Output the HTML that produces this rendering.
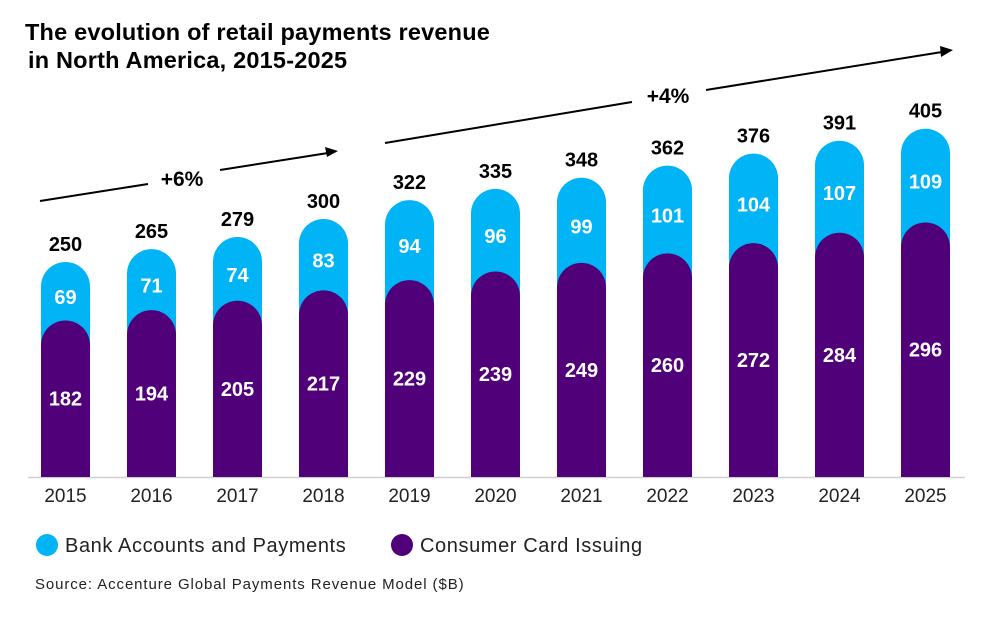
<!DOCTYPE html>
<html><head><meta charset="utf-8"><style>
body{margin:0;background:#fff;width:992px;height:621px;overflow:hidden;font-family:"Liberation Sans",sans-serif}
</style></head><body>
<svg id="chart" width="992" height="621" xmlns="http://www.w3.org/2000/svg" font-family="Liberation Sans, sans-serif">
<text font-weight="bold" font-size="23.5" fill="#000"><tspan x="25" y="40" letter-spacing="0.2">The evolution of retail payments revenue</tspan><tspan x="28" y="68" letter-spacing="0.2">in North America, 2015-2025</tspan></text>
<line x1="28" y1="477.5" x2="965" y2="477.5" stroke="#cfcfcf" stroke-width="1.5"/>
<g>
<line x1="40" y1="201" x2="148" y2="184" stroke="#000" stroke-width="2"/>
<line x1="220" y1="170" x2="328" y2="153" stroke="#000" stroke-width="2"/>
<polygon points="338,151 325,147 327,157" fill="#000"/>
<text x="182" y="186" font-size="21" font-weight="bold" text-anchor="middle">+6%</text>
</g>
<g>
<line x1="385" y1="143" x2="632" y2="102" stroke="#000" stroke-width="2"/>
<line x1="706" y1="90" x2="942" y2="52" stroke="#000" stroke-width="2"/>
<polygon points="953,50 940,46 941,57" fill="#000"/>
<text x="668" y="103" font-size="21" font-weight="bold" text-anchor="middle">+4%</text>
</g>
<g id="bars"></g>
<g>
<circle cx="47" cy="545" r="11" fill="#00B4F5"/>
<text x="65" y="552" font-size="20" letter-spacing="0.6" fill="#222">Bank Accounts and Payments</text>
<circle cx="402" cy="545" r="11" fill="#500078"/>
<text x="420" y="552" font-size="20" letter-spacing="0.6" fill="#222">Consumer Card Issuing</text>
</g>
<text x="35" y="589" font-size="15" letter-spacing="0.9" fill="#222">Source: Accenture Global Payments Revenue Model ($B)</text>
</svg>
<script>
const years=['2015','2016','2017','2018','2019','2020','2021','2022','2023','2024','2025'];
const bank=[69,71,74,83,94,96,99,101,104,107,109];
const card=[182,194,205,217,229,239,249,260,272,284,296];
const totals=[250,265,279,300,322,335,348,362,376,391,405];
const NS='http://www.w3.org/2000/svg';
const base=477, k=0.86, bw=49, r=24.5;
const xc=i=>65.5+i*86;
const y=v=>base-v*k;
const g=document.getElementById('bars');
function mk(t,a){const e=document.createElementNS(NS,t);for(const n in a)e.setAttribute(n,a[n]);g.appendChild(e);return e;}
function cap(x,top){const l=x-bw/2;return `M${l},${base} L${l},${top+r} A${r},${r} 0 0 1 ${l+bw},${top+r} L${l+bw},${base} Z`;}
years.forEach((yr,i)=>{
  const x=xc(i), tot=totals[i], ct=y(tot), pt=y(card[i]);
  const b=mk('path',{d:cap(x,ct),fill:'#00B4F5'});
  
  
  const p=mk('path',{d:cap(x,pt),fill:'#500078'});
  
  
  const t1=mk('text',{x:x,y:ct-11,'text-anchor':'middle','font-size':20,'font-weight':'bold',fill:'#000'});t1.textContent=tot;
  
  
  const t2=mk('text',{x:x,y:(ct+pt)/2+13,'text-anchor':'middle','font-size':20,'font-weight':'bold',fill:'#fff'});t2.textContent=bank[i];
  
  
  const t3=mk('text',{x:x,y:(pt+base)/2+7,'text-anchor':'middle','font-size':20,'font-weight':'bold',fill:'#fff'});t3.textContent=card[i];
  
  
  const t4=mk('text',{x:x,y:502,'text-anchor':'middle','font-size':19,fill:'#222'});t4.textContent=yr;
  
  
});
</script>
</body></html>
